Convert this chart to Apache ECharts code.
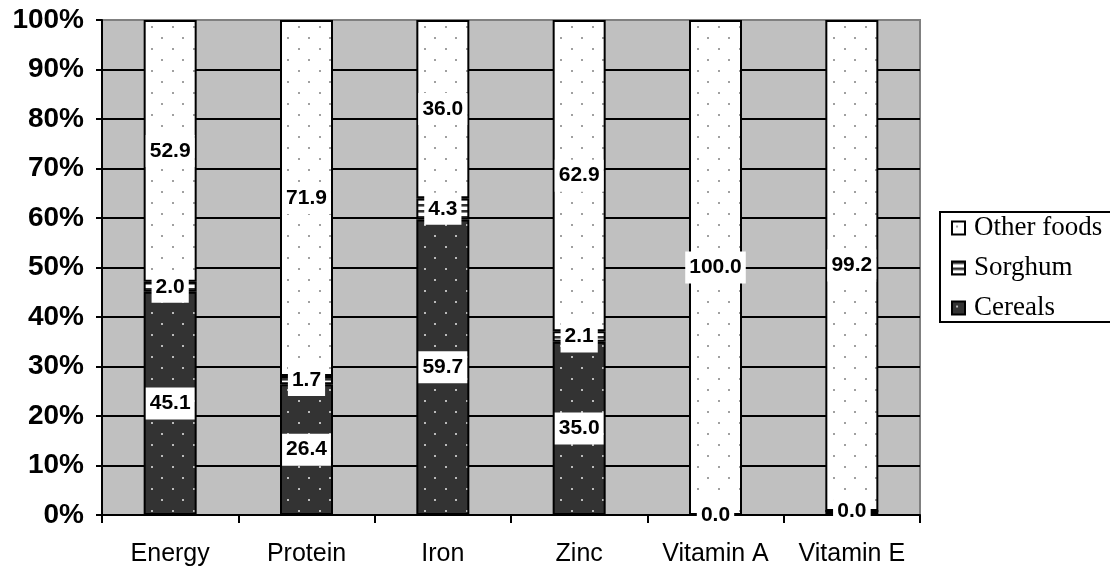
<!DOCTYPE html>
<html>
<head>
<meta charset="utf-8">
<script src="https://cdn.jsdelivr.net/npm/echarts@6/dist/echarts.min.js"></script>
<style>html,body{margin:0;padding:0;background:#fff}#c{width:1110px;height:571px}</style>
</head>
<body>
<div id="c"></div>
<script>
const categories = ['Energy', 'Protein', 'Iron', 'Zinc', 'Vitamin A', 'Vitamin E'];
const cereals = [45.1, 26.4, 59.7, 35.0, 0.0, 0.8];
const sorghum = [2.0, 1.7, 4.3, 2.1, 0.0, 0.0];
const otherFoods = [52.9, 71.9, 36.0, 62.9, 100.0, 99.2];
const yTicks = [0, 10, 20, 30, 40, 50, 60, 70, 80, 90, 100];

function dotPattern(bg, dot) {
  const c = document.createElement('canvas');
  c.width = 21; c.height = 22;
  const g = c.getContext('2d');
  g.fillStyle = bg; g.fillRect(0, 0, 21, 22);
  g.fillStyle = dot;
  g.fillRect(4, 4, 2, 2);
  g.fillRect(14, 15, 2, 2);
  return { image: c, repeat: 'repeat' };
}
function stripePattern() {
  const c = document.createElement('canvas');
  c.width = 8; c.height = 6;
  const g = c.getContext('2d');
  g.fillStyle = '#ffffff'; g.fillRect(0, 0, 8, 6);
  g.fillStyle = '#333333'; g.fillRect(0, 0, 8, 2);
  g.fillStyle = '#888888'; g.fillRect(0, 2, 8, 1);
  return { image: c, repeat: 'repeat' };
}

const cerealFill = dotPattern('#333333', '#bbbbbb');
const otherFill = dotPattern('#ffffff', '#a0a0a0');
const sorghumFill = stripePattern();

const labelCfg = {
  show: true,
  position: 'inside',
  formatter: p => p.value.toFixed(1),
  backgroundColor: '#ffffff',
  padding: [6, 4, 5, 4],
  color: '#000',
  fontFamily: 'Liberation Sans, Arial, sans-serif',
  fontWeight: 'bold',
  fontSize: 21
};

function mkSeries(name, data, fill) {
  return {
    name, type: 'bar', stack: 'total', data, barWidth: 53,
    itemStyle: { color: fill, borderColor: '#000', borderWidth: 2 },
    label: labelCfg,
    emphasis: { disabled: true }
  };
}

const splitColors = yTicks.map((v, i) => i === yTicks.length - 1 ? '#808080' : '#000000');

const chart = echarts.init(document.getElementById('c'));
chart.setOption({
  animation: false,
  backgroundColor: '#ffffff',
  grid: {
    left: 102, top: 20, right: 190, bottom: 56,
    show: true, backgroundColor: '#c0c0c0', borderColor: '#808080', borderWidth: 2
  },
  legend: {
    orient: 'vertical', left: 940, top: 212,
    data: ['Other foods', 'Sorghum', 'Cereals'],
    backgroundColor: '#ffffff', borderColor: '#000', borderWidth: 2,
    padding: [2, 20, 0, 11], itemGap: 12,
    itemWidth: 13, itemHeight: 13, icon: 'rect',
    itemStyle: { borderColor: '#000', borderWidth: 2 },
    textStyle: { fontFamily: 'Liberation Serif, Times New Roman, serif', fontSize: 27, lineHeight: 28, color: '#000', padding: [0, 0, 0, 4] }
  },
  xAxis: {
    type: 'category', data: categories,
    axisLine: { lineStyle: { color: '#000', width: 2 } },
    axisTick: { show: true, length: 8, lineStyle: { color: '#000', width: 2 } },
    axisLabel: { interval: 0, hideOverlap: false, fontFamily: 'Liberation Sans, Arial, sans-serif', fontSize: 25, color: '#000', margin: 27 }
  },
  yAxis: {
    type: 'value', min: 0, max: 100, interval: 10,
    axisLine: { show: true, lineStyle: { color: '#000', width: 2 } },
    axisTick: { show: true, length: 6, lineStyle: { color: '#000', width: 2 } },
    axisLabel: { formatter: '{value}%', fontFamily: 'Liberation Sans, Arial, sans-serif', fontWeight: 'bold', fontSize: 28, color: '#000', margin: 18 },
    splitLine: { show: true, lineStyle: { color: splitColors, width: 2 } }
  },
  series: [
    mkSeries('Cereals', cereals, cerealFill),
    mkSeries('Sorghum', sorghum, sorghumFill),
    mkSeries('Other foods', otherFoods, otherFill)
  ]
});
</script>
</body>
</html>
